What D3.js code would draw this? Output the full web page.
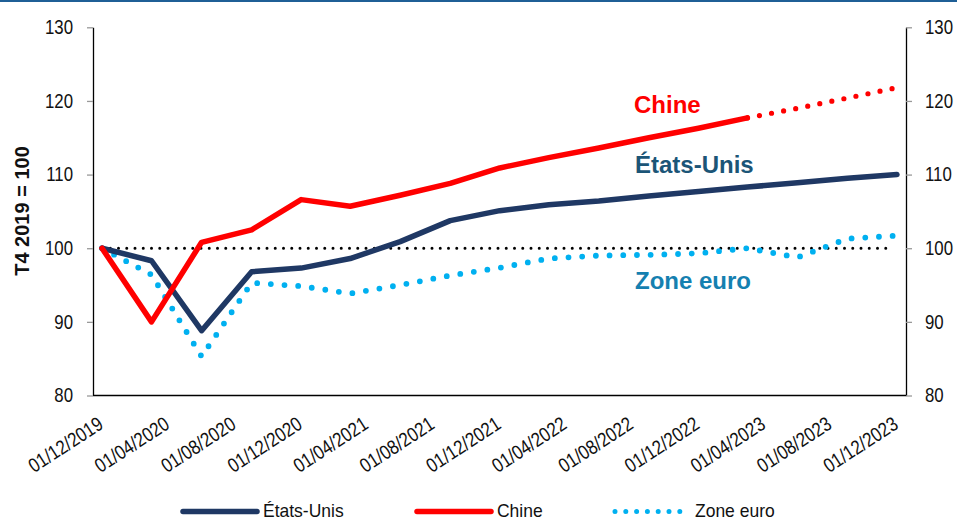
<!DOCTYPE html>
<html>
<head>
<meta charset="utf-8">
<script src="https://cdn.jsdelivr.net/npm/d3@7"></script>
<style>
    body { margin: 0; background: #fff; }
    svg { display: block; }
    text { font-family: "Liberation Sans", Arial, sans-serif; }
</style>
</head>
<body>
<div id="chart1"></div>
<script>
var SVGWidth = 957;
var SVGHeight = 519;

// quarterly dates, T4 2019 to T4 2023
var quarters = ["2019-12-01", "2020-03-01", "2020-06-01", "2020-09-01", "2020-12-01",
    "2021-03-01", "2021-06-01", "2021-09-01", "2021-12-01", "2022-03-01", "2022-06-01",
    "2022-09-01", "2022-12-01", "2023-03-01", "2023-06-01", "2023-09-01", "2023-12-01"];

var etatsUnis = [100, 98.3, 88.8, 96.8, 97.3, 98.6, 100.9, 103.75, 105.1, 105.9, 106.4,
    107.1, 107.7, 108.3, 108.9, 109.5, 110.0];

// Chine: observed part, then forecast (dotted) from T1 2023
var chine = [100, 90.0, 100.8, 102.5, 106.6, 105.7, 107.2, 108.8, 110.9, 112.3, 113.6,
    115.0, 116.3, 117.7];
var chinePrev = [117.7, 119.0, 120.4, 121.8];

var zoneEuro = [100, 96.4, 85.3, 95.3, 94.85, 93.85, 95.0, 96.3, 97.35, 98.6, 99.0,
    99.1, 99.3, 100.0, 98.75, 101.3, 101.7];

var xTicks = ["2019-12-01", "2020-04-01", "2020-08-01", "2020-12-01", "2021-04-01",
    "2021-08-01", "2021-12-01", "2022-04-01", "2022-08-01", "2022-12-01", "2023-04-01",
    "2023-08-01", "2023-12-01"];
var yTicks = [80, 90, 100, 110, 120, 130];

var parse = d3.timeParse("%Y-%m-%d");
var dates = quarters.map(parse);

var x = d3.scaleTime()
    .domain([dates[0], dates[dates.length - 1]])
    .range([102, 897]);

var y = d3.scaleLinear()
    .domain([80, 130])
    .range([395.5, 27.3]);

var svg = d3.select("#chart1")
    .append("svg")
        .attr("width", SVGWidth)
        .attr("height", SVGHeight);

/*
 * No Arial Narrow here: squeeze the text horizontally instead.
 */
function narrow(sel, factor) {
    sel.each(function() {
        var len = this.getComputedTextLength();
        d3.select(this)
            .attr("textLength", len * factor)
            .attr("lengthAdjust", "spacingAndGlyphs");
    });
}

// thin blue rule at the top
svg.append("rect")
    .attr("x", 0).attr("y", 0)
    .attr("width", SVGWidth).attr("height", 2)
    .attr("fill", "#1f5f96");

function seriesPoints(values, offset) {
    var pts = [];
    for (var i = 0; i < values.length; i++) {
        pts.push({ date: dates[i + offset], value: values[i] });
    }
    return pts;
}

var line = d3.line()
    .x(function(d) { return x(d.date); })
    .y(function(d) { return y(d.value); });

// reference line at 100
svg.append("path")
    .datum([{ date: dates[0], value: 100 }, { date: x.invert(886), value: 100 }])
    .attr("fill", "none")
    .attr("stroke", "#000")
    .attr("stroke-width", 3)
    .attr("stroke-linecap", "round")
    .attr("stroke-dasharray", "0 8.25")
    .attr("d", line);

// Zone euro (dotted)
svg.append("path")
    .datum(seriesPoints(zoneEuro, 0))
    .attr("fill", "none")
    .attr("stroke", "#00b0f0")
    .attr("stroke-width", 5.8)
    .attr("stroke-linecap", "round")
    .attr("stroke-linejoin", "round")
    .attr("stroke-dasharray", "0 13.7")
    .attr("d", line);

// Etats-Unis
svg.append("path")
    .datum(seriesPoints(etatsUnis, 0))
    .attr("fill", "none")
    .attr("stroke", "#1f3864")
    .attr("stroke-width", 5.5)
    .attr("stroke-linecap", "round")
    .attr("stroke-linejoin", "round")
    .attr("d", line);

// Chine
svg.append("path")
    .datum(seriesPoints(chine, 0))
    .attr("fill", "none")
    .attr("stroke", "#ff0000")
    .attr("stroke-width", 5.5)
    .attr("stroke-linecap", "round")
    .attr("stroke-linejoin", "round")
    .attr("d", line);

svg.append("path")
    .datum(seriesPoints(chinePrev, 13))
    .attr("fill", "none")
    .attr("stroke", "#ff0000")
    .attr("stroke-width", 5.2)
    .attr("stroke-linecap", "round")
    .attr("stroke-dasharray", "0 12.3")
    .attr("d", line);

// axes
var leftAxis = svg.append("g")
    .attr("transform", "translate(93,0)")
    .call(d3.axisLeft(y).tickValues(yTicks).tickSize(6).tickSizeOuter(0).tickPadding(14));

var rightAxis = svg.append("g")
    .attr("transform", "translate(906,0)")
    .call(d3.axisRight(y).tickValues(yTicks).tickSize(6).tickSizeOuter(0).tickPadding(13));

[leftAxis, rightAxis].forEach(function(g) {
    g.select(".domain").attr("stroke", "#000").attr("stroke-width", 1.3);
    g.selectAll(".tick line").attr("stroke", "#999").attr("stroke-width", 1.3);
    g.selectAll(".tick text")
        .attr("font-family", "Liberation Sans, Arial, sans-serif")
        .attr("font-size", 20)
        .attr("fill", "#111")
        .call(narrow, 0.84);
});

// bottom axis line
svg.append("line")
    .attr("x1", 93).attr("x2", 906)
    .attr("y1", 395.5).attr("y2", 395.5)
    .attr("stroke", "#000")
    .attr("stroke-width", 1.3);

var bottomAxis = svg.append("g")
    .attr("transform", "translate(0,395.5)")
    .call(d3.axisBottom(x)
        .tickValues(xTicks.map(parse))
        .tickSize(0)
        .tickFormat(d3.timeFormat("%d/%m/%Y")));

bottomAxis.select(".domain").remove();
bottomAxis.selectAll(".tick text")
    .attr("font-family", "Liberation Sans, Arial, sans-serif")
    .attr("font-size", 20)
    .attr("fill", "#111")
    .attr("text-anchor", "end")
    .attr("y", 0)
    .attr("dy", 0)
    .attr("transform", "translate(2,32) rotate(-33)")
    .call(narrow, 0.84);

// y title
svg.append("text")
    .attr("transform", "translate(29,211) rotate(-90)")
    .attr("text-anchor", "middle")
    .attr("font-weight", "bold")
    .attr("font-size", 20)
    .attr("fill", "#111")
    .text("T4 2019 = 100");

// in-chart labels
var labels = [
    { text: "Chine", x: 634, y: 113, color: "#ff0000" },
    { text: "États-Unis", x: 635, y: 173, color: "#1b5577" },
    { text: "Zone euro", x: 635, y: 289, color: "#1580b0" }
];
svg.selectAll(".serieLabel")
    .data(labels)
    .enter()
    .append("text")
    .attr("class", "serieLabel")
    .attr("x", function(d) { return d.x; })
    .attr("y", function(d) { return d.y; })
    .attr("font-weight", "bold")
    .attr("font-size", 24)
    .attr("fill", function(d) { return d.color; })
    .text(function(d) { return d.text; });

// legend
var legend = [
    { text: "États-Unis", x: 183, color: "#1f3864", dash: null },
    { text: "Chine", x: 417, color: "#ff0000", dash: null },
    { text: "Zone euro", x: 615, color: "#00b0f0", dash: "0 10.8" }
];
var lg = svg.selectAll(".legendItem")
    .data(legend)
    .enter()
    .append("g")
    .attr("class", "legendItem")
    .attr("transform", function(d) { return "translate(" + d.x + ",511.5)"; });

lg.append("line")
    .attr("x1", 0).attr("x2", 74)
    .attr("stroke", function(d) { return d.color; })
    .attr("stroke-width", function(d) { return d.dash ? 5 : 5.5; })
    .attr("stroke-linecap", "round")
    .attr("stroke-dasharray", function(d) { return d.dash; });

lg.append("text")
    .attr("x", 80)
    .attr("y", 5)
    .attr("font-size", 19)
    .attr("fill", "#111")
    .text(function(d) { return d.text; })
    .call(narrow, 0.92);
</script>
</body>
</html>
